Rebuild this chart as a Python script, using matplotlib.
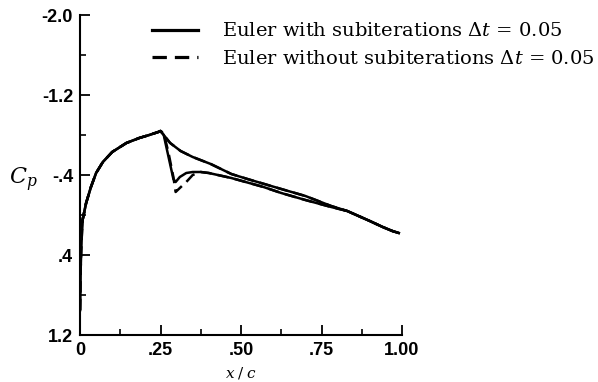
import matplotlib.pyplot as plt
import numpy as np

# Cp distribution, Euler with / without subiterations (dt = 0.05)

plt.rcParams['mathtext.fontset'] = 'dejavuserif'

# surface 1 (weak, smeared shock)
x_s1 = [0.0, 0.002, 0.005, 0.008, 0.019, 0.034, 0.05, 0.071, 0.10, 0.144, 0.184, 0.215, 0.243, 0.25,
        0.26, 0.28, 0.3125, 0.35, 0.406, 0.47, 0.52, 0.625, 0.70, 0.78, 0.83, 0.865, 0.90, 0.94,
        0.97, 0.99]
cp_s1_sub = [0.95, 0.55, 0.25, 0.05, -0.12, -0.28, -0.42, -0.53, -0.63, -0.72, -0.77, -0.80, -0.83, -0.84,
             -0.80, -0.72, -0.64, -0.58, -0.51, -0.41, -0.36, -0.26, -0.19, -0.09, -0.04, 0.01, 0.06,
             0.12, 0.16, 0.18]
cp_s1_nosub = cp_s1_sub

# surface 2 (strong shock near x/c = 0.3)
x_s2 = [0.0, 0.001, 0.003, 0.008, 0.019, 0.034, 0.05, 0.071, 0.10, 0.144, 0.184, 0.215, 0.243, 0.25,
        0.26, 0.275, 0.29, 0.297, 0.31, 0.33, 0.35, 0.375, 0.40, 0.47, 0.57, 0.625, 0.70, 0.78,
        0.83, 0.865, 0.90, 0.94, 0.97, 0.99]
cp_s2_sub = [0.95, 0.55, 0.25, 0.05, -0.12, -0.28, -0.42, -0.53, -0.63, -0.72, -0.77, -0.80, -0.83, -0.84,
             -0.80, -0.58, -0.36, -0.33, -0.38, -0.42, -0.43, -0.43, -0.42, -0.37, -0.28, -0.22,
             -0.15, -0.08, -0.04, 0.01, 0.06, 0.12, 0.16, 0.18]
cp_s2_nosub = [0.95, 0.55, 0.25, 0.05, -0.12, -0.28, -0.42, -0.53, -0.63, -0.72, -0.77, -0.80, -0.83, -0.84,
               -0.82, -0.62, -0.38, -0.23, -0.27, -0.33, -0.40, -0.43, -0.42, -0.37, -0.28, -0.22,
               -0.15, -0.08, -0.04, 0.01, 0.06, 0.12, 0.16, 0.18]

fig = plt.figure(figsize=(5.98, 3.82), dpi=100)
ax = fig.add_axes([80/598, 1-335/382, 322/598, 320/382])

dash = (0, (4.5, 2.5))
ax.plot(x_s1, cp_s1_nosub, color='black', lw=1.8, ls=dash, zorder=2)
ax.plot(x_s2, cp_s2_nosub, color='black', lw=1.8, ls=dash, zorder=2,
        label=r'Euler without subiterations $\Delta t$ = 0.05')
ax.plot(x_s1, cp_s1_sub, color='black', lw=1.8, zorder=3,
        label=r'Euler with subiterations $\Delta t$ = 0.05')
ax.plot(x_s2, cp_s2_sub, color='black', lw=1.8, zorder=3)

ax.set_xlim(0, 1.0)
ax.set_ylim(1.2, -2.0)
ax.spines['top'].set_visible(False)
ax.spines['right'].set_visible(False)
ax.spines['left'].set_linewidth(1.5)
ax.spines['bottom'].set_linewidth(1.5)

ax.set_xticks([0, 0.25, 0.5, 0.75, 1.0])
ax.set_xticklabels(['0', '.25', '.50', '.75', '1.00'])
ax.set_xticks(np.arange(0.125, 1.0, 0.25), minor=True)
ax.set_yticks([-2.0, -1.2, -0.4, 0.4, 1.2])
ax.set_yticklabels(['-2.0', '-1.2', '-.4', '.4', '1.2'])
ax.set_yticks([-1.6, -0.8, 0.0, 0.8], minor=True)
ax.tick_params(which='major', direction='in', length=7, width=1.3, pad=5)
ax.tick_params(which='minor', direction='in', length=4, width=1.2)
for lab in ax.get_xticklabels() + ax.get_yticklabels():
    lab.set_family('Liberation Sans')
    lab.set_fontsize(13)
    lab.set_fontweight('bold')

ax.text(-0.175, -0.35, r'$C_p$', fontsize=16, ha='center', va='center')
ax.text(0.5, -0.12, r'$x\;/\;c$', fontsize=11, ha='center', va='center', transform=ax.transAxes)

handles, labels = ax.get_legend_handles_labels()
leg = fig.legend(handles[::-1], labels[::-1], loc='upper left', bbox_to_anchor=(134/598, 1-5/382),
                 frameon=False, handlelength=2.4, handletextpad=1.2, labelspacing=0.5,
                 prop={'family': 'DejaVu Serif', 'size': 14})
for ln in leg.get_lines():
    ln.set_linewidth(2.3)

plt.savefig("out.png", dpi=100)
